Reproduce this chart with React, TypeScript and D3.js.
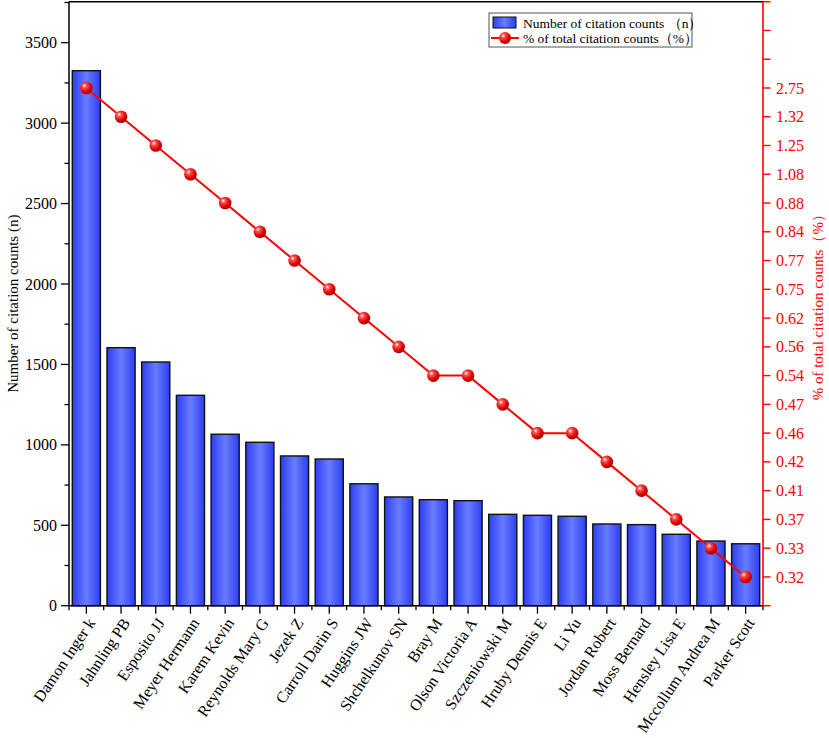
import React, { useEffect, useRef } from 'react';
import * as d3 from 'd3';

const authors = [
  'Damon Inger k', 'Jahnling PB', 'Esposito JJ', 'Meyer Hermann', 'Karem Kevin',
  'Reynolds Mary G', 'Jezek Z', 'Carroll Darin S', 'Huggins JW', 'Shchelkunov SN',
  'Bray M', 'Olson Victoria A', 'Szczeniowski M', 'Hruby Dennis E', 'Li Yu',
  'Jordan Robert', 'Moss Bernard', 'Hensley Lisa E', 'Mccollum Andrea M', 'Parker Scott'
];
const citations = [
  3326, 1604, 1515, 1308, 1066, 1016, 931, 912, 758, 676,
  659, 653, 568, 562, 556, 508, 504, 444, 402, 385
];
const percents = [
  2.75, 1.32, 1.25, 1.08, 0.88, 0.84, 0.77, 0.75, 0.62, 0.56,
  0.54, 0.54, 0.47, 0.46, 0.46, 0.42, 0.41, 0.37, 0.33, 0.32
];
const leftTicks = [0, 500, 1000, 1500, 2000, 2500, 3000, 3500];

const W = 829;
const H = 738;

const App: React.FC = () => {
  const svgRef = useRef<SVGSVGElement>(null);

  useEffect(() => {
    if (!svgRef.current) return;
    const svg = d3.select(svgRef.current);
    svg.selectAll('*').remove();

    const margin = { top: 1.7, left: 69, right: 66, bottom: 132.3 };
    const x0 = margin.left;
    const x1 = W - margin.right;
    const yTop = margin.top;
    const yBot = H - margin.bottom;
    const font = '"Liberation Serif", "Times New Roman", serif';

    const x = d3.scaleBand<string>().domain(authors).range([x0, x1]).padding(0);
    const y = d3.scaleLinear().domain([0, 3755]).range([yBot, yTop]);

    // right axis: each distinct percentage gets its own slot
    const uniq = Array.from(new Set(percents)).sort((a, b) => a - b);
    const rank = (v: number) => uniq.indexOf(v) + 1;
    const yR = d3.scaleLinear().domain([0, uniq.length + 3]).range([yBot, yTop]);

    const defs = svg.append('defs');
    const barGrad = defs.append('linearGradient').attr('id', 'barGrad')
      .attr('x1', '0%').attr('x2', '100%').attr('y1', '0%').attr('y2', '0%');
    barGrad.append('stop').attr('offset', '0%').attr('stop-color', '#2b3ef2');
    barGrad.append('stop').attr('offset', '50%').attr('stop-color', '#6a7cff');
    barGrad.append('stop').attr('offset', '100%').attr('stop-color', '#2b3ef2');

    const ball = defs.append('radialGradient').attr('id', 'ball')
      .attr('cx', '35%').attr('cy', '32%').attr('r', '70%');
    ball.append('stop').attr('offset', '0%').attr('stop-color', '#ffffff');
    ball.append('stop').attr('offset', '25%').attr('stop-color', '#ff5050');
    ball.append('stop').attr('offset', '70%').attr('stop-color', '#e00000');
    ball.append('stop').attr('offset', '100%').attr('stop-color', '#a00000');

    // bars
    const bw = x.bandwidth() * 0.81;
    svg.append('g').selectAll('rect')
      .data(authors)
      .enter()
      .append('rect')
      .attr('x', (d) => (x(d) || 0) + (x.bandwidth() - bw) / 2)
      .attr('y', (_, i) => y(citations[i]))
      .attr('width', bw)
      .attr('height', (_, i) => yBot - y(citations[i]))
      .attr('fill', 'url(#barGrad)')
      .attr('stroke', '#111')
      .attr('stroke-width', 1.4);

    // frame top
    svg.append('line').attr('x1', x0).attr('x2', x1).attr('y1', yTop).attr('y2', yTop)
      .attr('stroke', '#000').attr('stroke-width', 1.5);

    // left axis
    const left = svg.append('g').attr('transform', `translate(${x0},0)`);
    left.append('line').attr('y1', yTop).attr('y2', yBot).attr('stroke', '#000').attr('stroke-width', 1.5);
    const minor = d3.range(250, 3755, 500);
    left.selectAll('.minor').data(minor).enter().append('line')
      .attr('x1', -4.5).attr('x2', 0).attr('y1', (d) => y(d)).attr('y2', (d) => y(d))
      .attr('stroke', '#000').attr('stroke-width', 1.3);
    left.selectAll('.major').data(leftTicks).enter().append('line')
      .attr('x1', -8).attr('x2', 0).attr('y1', (d) => y(d)).attr('y2', (d) => y(d))
      .attr('stroke', '#000').attr('stroke-width', 1.3);
    left.selectAll('text').data(leftTicks).enter().append('text')
      .attr('x', -12).attr('y', (d) => y(d)).attr('dy', '0.35em')
      .attr('text-anchor', 'end').style('font-family', font).style('font-size', '16px')
      .attr('fill', '#000').text((d) => String(d));

    svg.append('text')
      .attr('transform', `translate(13,${(yTop + yBot) / 2}) rotate(-90)`)
      .attr('text-anchor', 'middle').attr('dy', '0.35em')
      .style('font-family', font).style('font-size', '15px')
      .text('Number of citation counts (n)');

    // bottom axis
    const bottom = svg.append('g').attr('transform', `translate(0,${yBot})`);
    bottom.append('line').attr('x1', x0).attr('x2', x1).attr('stroke', '#000').attr('stroke-width', 1.5);
    const edges = authors.map((d) => x(d) || 0).concat([x1]);
    bottom.selectAll('.edge').data(edges).enter().append('line')
      .attr('x1', (d) => d).attr('x2', (d) => d).attr('y1', 0).attr('y2', 4.5)
      .attr('stroke', '#000').attr('stroke-width', 1.3);
    bottom.selectAll('.center').data(authors).enter().append('line')
      .attr('x1', (d) => (x(d) || 0) + x.bandwidth() / 2)
      .attr('x2', (d) => (x(d) || 0) + x.bandwidth() / 2)
      .attr('y1', 0).attr('y2', 8)
      .attr('stroke', '#000').attr('stroke-width', 1.3);
    bottom.selectAll('text').data(authors).enter().append('text')
      .attr('transform', (d) => `translate(${(x(d) || 0) + x.bandwidth() / 2 + 5},${14}) rotate(-56)`)
      .attr('text-anchor', 'end').attr('dy', '0.35em')
      .style('font-family', font).style('font-size', '16px')
      .text((d) => d);

    // right axis
    const red = '#ff0000';
    const right = svg.append('g').attr('transform', `translate(${x1},0)`);
    right.append('line').attr('y1', yTop).attr('y2', yBot).attr('stroke', red).attr('stroke-width', 1.6);
    const rTicks = d3.range(0, uniq.length + 4);
    right.selectAll('.rt').data(rTicks).enter().append('line')
      .attr('x1', 0).attr('x2', 7.5).attr('y1', (d) => yR(d)).attr('y2', (d) => yR(d))
      .attr('stroke', red).attr('stroke-width', 1.4);
    right.selectAll('text').data(uniq).enter().append('text')
      .attr('x', 13).attr('y', (d) => yR(rank(d))).attr('dy', '0.35em')
      .style('font-family', font).style('font-size', '16px').attr('fill', red)
      .text((d) => d.toFixed(2));

    svg.append('text')
      .attr('transform', `translate(818,${(yTop + yBot) / 2}) rotate(-90)`)
      .attr('text-anchor', 'middle').attr('dy', '0.35em')
      .style('font-family', font).style('font-size', '15px').attr('fill', red)
      .text('% of total citation counts（%）');

    // line series
    const line = d3.line<number>()
      .x((_, i) => (x(authors[i]) || 0) + x.bandwidth() / 2)
      .y((d) => yR(rank(d)));
    svg.append('path').datum(percents).attr('d', line)
      .attr('fill', 'none').attr('stroke', red).attr('stroke-width', 2);
    svg.append('g').selectAll('circle').data(percents).enter().append('circle')
      .attr('cx', (_, i) => (x(authors[i]) || 0) + x.bandwidth() / 2)
      .attr('cy', (d) => yR(rank(d)))
      .attr('r', 6.3)
      .attr('fill', 'url(#ball)');

    // legend
    const lg = svg.append('g').attr('transform', 'translate(489,13)');
    lg.append('rect').attr('width', 203).attr('height', 34)
      .attr('fill', '#fff').attr('stroke', '#555').attr('stroke-width', 1);
    lg.append('rect').attr('x', 4).attr('y', 4).attr('width', 23).attr('height', 11)
      .attr('fill', 'url(#barGrad)').attr('stroke', '#111').attr('stroke-width', 1);
    lg.append('text').attr('x', 34).attr('y', 10).attr('dy', '0.35em')
      .style('font-family', font).style('font-size', '13.5px')
      .text('Number of citation counts （n）');
    lg.append('line').attr('x1', 2).attr('x2', 30).attr('y1', 25).attr('y2', 25)
      .attr('stroke', red).attr('stroke-width', 2);
    lg.append('circle').attr('cx', 16).attr('cy', 25).attr('r', 6).attr('fill', 'url(#ball)');
    lg.append('text').attr('x', 34).attr('y', 25).attr('dy', '0.35em')
      .style('font-family', font).style('font-size', '13.5px')
      .text('% of total citation counts（%）');
  }, []);

  return (
    <div style={{ position: 'absolute', left: 0, top: 0 }}>
      <svg ref={svgRef} width={W} height={H} style={{ display: 'block', background: '#fff' }} />
    </div>
  );
};

export default App;
